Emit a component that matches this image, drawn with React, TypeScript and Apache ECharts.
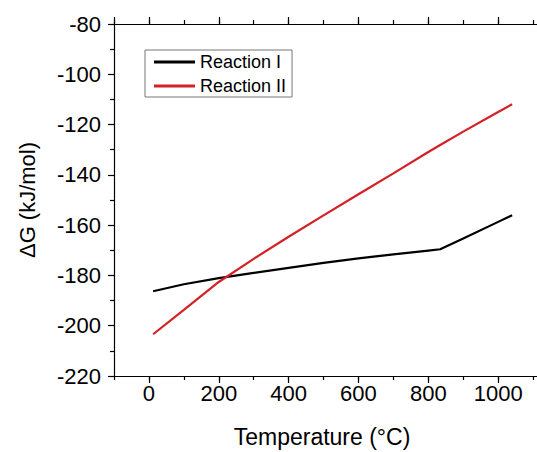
import React, { useEffect, useRef } from "react";
import * as echarts from "echarts";

const temperatures = [12, 100, 200, 300, 400, 500, 600, 700, 800, 834, 900, 1000, 1040];
const reaction1 = [-186.3, -183.5, -181.1, -179.0, -177.0, -175.0, -173.2, -171.6, -170.1, -169.6, -165.3, -158.7, -156.1];
const reaction2 = [-203.4, -193.7, -182.6, -173.4, -164.6, -156.1, -147.7, -139.4, -130.9, -128.1, -122.8, -115.0, -111.9];
const xTickLabels = [0, 200, 400, 600, 800, 1000];
const seriesNames = ["Reaction I", "Reaction II"];
const xTitle = "Temperature (°C)";
const yTitle = "ΔG (kJ/mol)";

const FONT = "'Liberation Sans', Arial, sans-serif";

export default function App() {
  const ref = useRef<HTMLDivElement>(null);
  useEffect(() => {
    if (!ref.current) return;
    const chart = echarts.init(ref.current, undefined, { renderer: "svg" });
    const pair = (ys: number[]) => temperatures.map((t, i) => [t, ys[i]]);
    const axisLine = { show: true, onZero: false, lineStyle: { color: "#000", width: 1.2 } };
    const baseX = {
      type: "value" as const,
      min: -100,
      max: 1200,
      splitLine: { show: false },
      axisLine,
    };
    chart.setOption({
      animation: false,
      backgroundColor: "#fff",
      textStyle: { fontFamily: FONT },
      grid: { left: 114, top: 24, width: 454, height: 352, containLabel: false, outerBoundsMode: "none" },
      legend: {
        data: seriesNames,
        orient: "vertical",
        left: 145,
        top: 50,
        padding: [3, 6, 2, 9],
        itemGap: 6,
        itemWidth: 41,
        itemHeight: 3,
        icon: "rect",
        borderColor: "#777",
        borderWidth: 1,
        textStyle: { fontSize: 18, color: "#000", fontFamily: FONT },
      },
      xAxis: [
        {
          ...baseX,
          position: "bottom",
          minInterval: 200,
          maxInterval: 200,
          axisTick: { show: true, length: 7, lineStyle: { color: "#000", width: 1.2 } },
          axisLabel: {
            fontSize: 22,
            color: "#000",
            fontFamily: FONT,
            margin: 6,
            showMinLabel: false,
            showMaxLabel: false,
            formatter: (v: number) => (xTickLabels.includes(v) ? String(v) : ""),
          },
        },
        {
          ...baseX,
          position: "bottom",
          interval: 100,
          axisTick: { show: true, length: 4, lineStyle: { color: "#000", width: 1.2 } },
          axisLabel: { show: false },
        },
        {
          ...baseX,
          position: "top",
          minInterval: 200,
          maxInterval: 200,
          axisTick: { show: true, length: 7, lineStyle: { color: "#000", width: 1.2 } },
          axisLabel: { show: false },
        },
        {
          ...baseX,
          position: "top",
          interval: 100,
          axisTick: { show: true, length: 4, lineStyle: { color: "#000", width: 1.2 } },
          axisLabel: { show: false },
        },
      ],
      yAxis: {
        type: "value",
        min: -220,
        max: -80,
        interval: 20,
        position: "left",
        splitLine: { show: false },
        axisLine,
        axisTick: { show: true, length: 6, lineStyle: { color: "#000", width: 1.2 } },
        minorTick: { show: true, splitNumber: 2, length: 4, lineStyle: { color: "#000", width: 1.2 } },
        axisLabel: { fontSize: 22, color: "#000", fontFamily: FONT, margin: 13 },
      },
      graphic: [
        {
          type: "text",
          x: 322,
          y: 437,
          style: { text: xTitle, fontSize: 23, fill: "#000", fontFamily: FONT, align: "center", verticalAlign: "middle" },
        },
        {
          type: "text",
          x: 27,
          y: 200,
          rotation: Math.PI / 2,
          style: { text: yTitle, fontSize: 22, fill: "#000", fontFamily: FONT, align: "center", verticalAlign: "middle" },
        },
      ],
      series: [
        {
          name: seriesNames[0],
          type: "line",
          xAxisIndex: 0,
          data: pair(reaction1),
          showSymbol: false,
          symbol: "none",
          color: "#000",
          lineStyle: { color: "#000", width: 2.2 },
        },
        {
          name: seriesNames[1],
          type: "line",
          xAxisIndex: 0,
          data: pair(reaction2),
          showSymbol: false,
          symbol: "none",
          color: "#d42027",
          lineStyle: { color: "#d42027", width: 2.2 },
        },
      ],
    });
    return () => chart.dispose();
  }, []);
  return (
    <div
      ref={ref}
      style={{ position: "fixed", left: 0, top: 0, width: 537, height: 452, background: "#fff" }}
    />
  );
}
